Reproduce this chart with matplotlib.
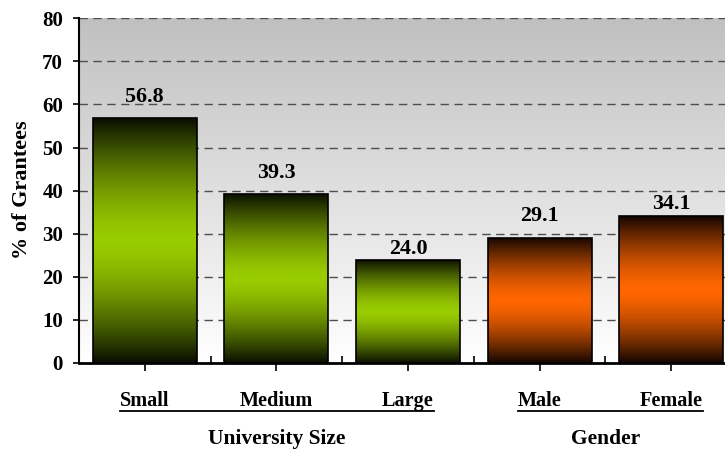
import numpy as np
import matplotlib
matplotlib.use("Agg")
import matplotlib.pyplot as plt
from matplotlib.colors import LinearSegmentedColormap
from matplotlib.transforms import offset_copy
from matplotlib.ticker import FixedLocator

# ---- data ----
categories = ["Small", "Medium", "Large", "Male", "Female"]
values = [56.8, 39.3, 24.0, 29.1, 34.1]
groups = ["University Size", "University Size", "University Size", "Gender", "Gender"]
group_names = ["University Size", "Gender"]
y_ticks = [0, 10, 20, 30, 40, 50, 60, 70, 80]
y_label = "% of Grantees"

# label lift above each bar top (points)
label_lift = [11.5, 11.5, 4.3, 12.2, 5.0]

plt.rcParams["font.family"] = ["Liberation Serif", "DejaVu Serif"]
plt.rcParams["font.weight"] = "bold"

fig = plt.figure(figsize=(7.25, 4.5), dpi=100)
ax = fig.add_axes([79 / 725, 1 - 363 / 450, 658 / 725, 344.7 / 450])

x = np.arange(len(categories))

# plot-area background: grey at the top fading to white
bg = np.linspace(0, 1, 256).reshape(-1, 1)
bg_cmap = LinearSegmentedColormap.from_list("bg", ["#FFFFFF", "#C0C0C0"])
ax.imshow(bg, extent=[0, 1, 0, 1], transform=ax.transAxes, cmap=bg_cmap,
          aspect="auto", origin="lower", zorder=0)

# dashed gridlines
for yv in y_ticks[1:]:
    ax.axhline(yv, color="#4d4d4d", lw=1.0, ls=(0, (6, 4)), zorder=1)

# bars with a dark-bright-dark vertical gradient
palette = {"University Size": "#99CC00", "Gender": "#FF6600"}
edge_dark = {"University Size": "#0A0F00", "Gender": "#150600"}
u = np.linspace(-1, 1, 256)
prof = 1 - np.abs(u) ** 1.5
grad = prof.reshape(-1, 1)
bars = ax.bar(x, values, width=0.79, facecolor="none", edgecolor="black",
              linewidth=1.2, zorder=3)
for b, g in zip(bars, groups):
    cmap = LinearSegmentedColormap.from_list("c", [edge_dark[g], palette[g]])
    x0, y0 = b.get_x(), b.get_y()
    im = ax.imshow(grad, extent=[x0, x0 + b.get_width(), y0, y0 + b.get_height()],
                   cmap=cmap, vmin=0, vmax=1, aspect="auto", origin="lower", zorder=2)
    im.set_clip_path(b)

ax.set_xlim(-0.5, len(categories) - 0.5)
ax.set_ylim(y_ticks[0], y_ticks[-1])

# value labels
for b, v, lift in zip(bars, values, label_lift):
    ax.annotate(f"{v:.1f}", xy=(b.get_x() + b.get_width() / 2, b.get_height()),
                xytext=(0, lift), textcoords="offset points",
                ha="center", va="baseline", fontsize=15.8, fontweight="bold")

# axes styling
for s in ["top", "right"]:
    ax.spines[s].set_visible(False)
ax.spines["left"].set_linewidth(1.5)
ax.spines["bottom"].set_linewidth(2.0)
ax.spines["left"].set_zorder(4)
ax.spines["bottom"].set_zorder(4)

ax.yaxis.set_major_locator(FixedLocator(y_ticks))
ax.tick_params(axis="y", direction="out", length=4.5, width=1.2, pad=7,
               labelsize=15)
for t in ax.get_yticklabels():
    t.set_fontweight("bold")

ax.set_xticks(x)
ax.set_xticklabels([])
ax.xaxis.set_minor_locator(FixedLocator(x[:-1] + 0.5))
ax.tick_params(axis="x", which="major", direction="out", length=6, width=1.2)
ax.tick_params(axis="x", which="minor", direction="in", length=5, width=1.2)

# category labels under the axis
tr_cat = offset_copy(ax.get_xaxis_transform(), fig=fig, x=0, y=-43, units="dots")
cat_texts = []
for xi, c in zip(x, categories):
    t = ax.text(xi, 0, c, transform=tr_cat, ha="center", va="baseline",
                fontsize=14.6, fontweight="bold", clip_on=False)
    cat_texts.append(t)

# group labels and underlines
tr_grp = offset_copy(ax.get_xaxis_transform(), fig=fig, x=0, y=-81, units="dots")
tr_line = offset_copy(ax.get_xaxis_transform(), fig=fig, x=0, y=-48, units="dots")
fig.canvas.draw()
renderer = fig.canvas.get_renderer()
inv = ax.transData.inverted()
for gname in group_names:
    idx = [i for i, g in enumerate(groups) if g == gname]
    ax.text(np.mean(x[idx]), 0, gname, transform=tr_grp, ha="center",
            va="baseline", fontsize=15.5, fontweight="bold", clip_on=False)
    left_px = cat_texts[idx[0]].get_window_extent(renderer).x0
    right_px = cat_texts[idx[-1]].get_window_extent(renderer).x1
    xl = inv.transform((left_px, 0))[0]
    xr = inv.transform((right_px, 0))[0]
    ax.plot([xl, xr], [0, 0], color="black", lw=1.3, transform=tr_line,
            clip_on=False)

fig.text(22 / 725, 1 - 190 / 450, y_label, rotation=90, ha="center", va="center",
         fontsize=16, fontweight="bold")

fig.savefig("out.png", dpi=100)
